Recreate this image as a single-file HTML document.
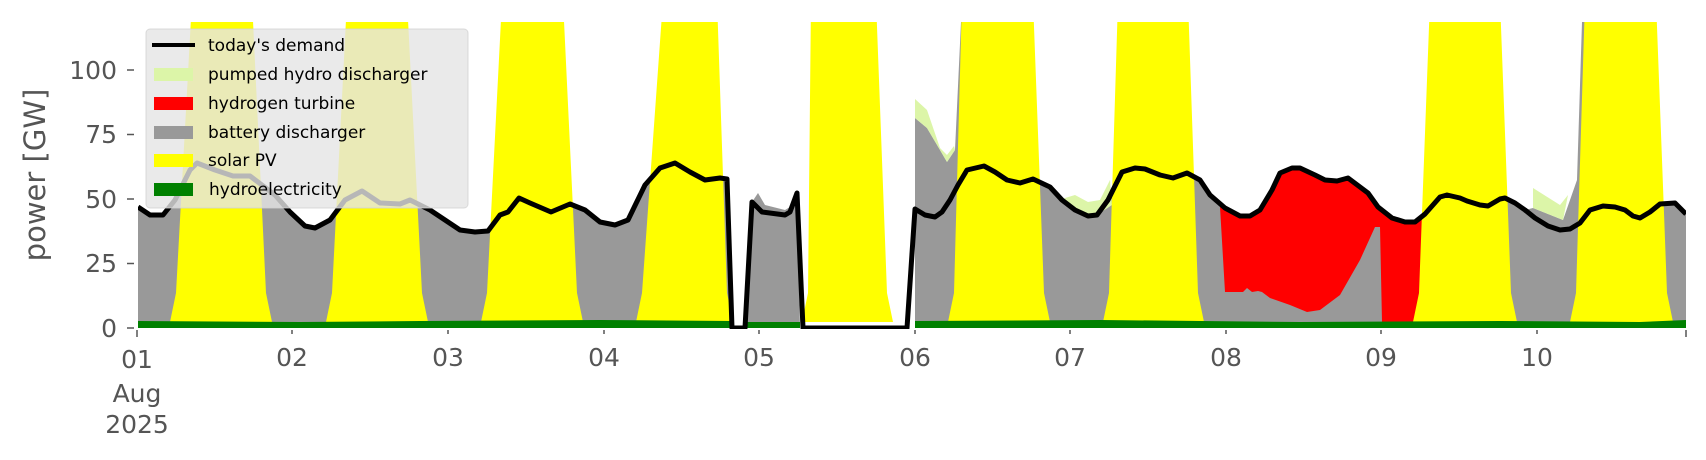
<!DOCTYPE html>
<html><head><meta charset="utf-8"><style>
html,body{margin:0;padding:0;background:#fff;}
svg{display:block;font-family:"DejaVu Sans","Liberation Sans",sans-serif;}
</style></head><body>
<svg width="1706" height="460" viewBox="0 0 1706 460" xmlns="http://www.w3.org/2000/svg">
<defs><clipPath id="c"><rect x="138" y="22" width="1548" height="307"/></clipPath></defs>
<g clip-path="url(#c)">
<polygon fill="#999" points="138,207 150,215 163,215 175,200 190,170 197,163 215,170 233,176 250,176 275,195 290,212 305,226 315,228 330,220 345,200 362,191 380,203 400,204 410,200 430,210 445,220 460,230 475,232 488,231 500,215 508,212 519,198 530,203 551,212 570,204 585,210 600,222 615,225 628,220 645,185 660,168 675,163 690,172 705,180 720,178 727,179 730,328 138,328"/>
<polygon fill="#999" points="745,328 752,202 758,193 765,205 785,210 790,207 797,190 800,328"/>
<polygon fill="#999" points="915,328 915,118 927,128 940,150 947,162 955,150 961,22 1000,22 1033,179 1050,187 1062,200 1075,210 1088,216 1097,215 1108,200 1122,172 1135,168 1145,169 1160,175 1173,178 1187,173 1200,180 1210,195 1225,208 1240,216 1250,216 1260,210 1272,190 1280,173 1292,168 1300,168 1315,175 1325,180 1337,181 1348,178 1360,187 1368,193 1378,207 1392,218 1405,222 1415,222 1425,214 1440,197 1447,195 1460,198 1467,201 1480,205 1488,206 1500,199 1505,198 1515,203 1525,210 1533,208 1563,220 1577,180 1582,22 1600,22 1615,207 1625,210 1633,216 1640,218 1650,212 1660,204 1675,203 1686,214 1686,328"/>
<polygon fill="#dcf5a8" points="915,99 927,110 940,148 947,155 954,146 955,150 947,162 940,150 927,128 915,118"/>
<polygon fill="#dcf5a8" points="1065,198 1075,195 1088,202 1100,200 1110,180 1112,205 1097,215 1088,216 1075,210 1062,200"/>
<polygon fill="#dcf5a8" points="1222,208 1250,217 1245,226 1228,224"/>
<polygon fill="#dcf5a8" points="1533,188 1560,205 1568,195 1563,220 1533,208"/>
<polygon fill="#f00" points="1220,207 1225,208 1240,216 1250,216 1260,210 1272,190 1280,173 1292,168 1300,168 1315,175 1325,180 1337,181 1348,178 1360,187 1368,193 1378,207 1392,218 1405,222 1415,222 1422,216 1422,290 1413,322 1382,322 1380,227 1375,227 1360,260 1340,295 1320,310 1307,312 1290,305 1270,298 1262,292 1258,291 1252,292 1247,288 1243,292 1225,292"/>
<g fill="#ff0">
<polygon points="170,322 176,293 192,0 252,0 266,293 272,322"/>
<polygon points="326,322 332,293 347,0 407,0 422,293 428,322"/>
<polygon points="481,322 487,293 502,0 563,0 577,293 583,322"/>
<polygon points="636,322 642,293 663,0 717,0 727,293 733,322"/>
<polygon points="802,322 808,293 811,0 876,0 887,293 893,322"/>
<polygon points="948,322 954,293 962,0 1033,0 1044,293 1050,322"/>
<polygon points="1103,322 1109,293 1118,0 1188,0 1198,293 1204,322"/>
<polygon points="1413,322 1419,293 1430,0 1500,0 1511,293 1517,322"/>
<polygon points="1570,322 1576,293 1585,0 1656,0 1667,293 1673,322"/>
</g>
<polygon fill="#008000" points="138,328 138,321 300,322 420,321 600,320 732,321 732,328"/>
<polygon fill="#008000" points="745,328 745,322 800,322 800,328"/>
<polygon fill="#008000" points="915,328 915,321 1100,320 1300,322 1500,321 1640,322 1686,320 1686,328"/>
<polyline fill="none" stroke="#000" stroke-width="5" stroke-linejoin="round" points="138,207 150,215 163,215 175,200 190,170 197,163 215,170 233,176 250,176 275,195 290,212 305,226 315,228 330,220 345,200 362,191 380,203 400,204 410,200 430,210 445,220 460,230 475,232 488,231 500,215 508,212 519,198 530,203 551,212 570,204 585,210 600,222 615,225 628,220 645,185 660,168 675,163 690,172 705,180 720,178 727,179 732,328 745,328 752,202 757,207 762,212 785,215 790,212 797,193 803,328 907,328 915,209 925,215 935,217 942,212 950,200 958,185 967,170 984,166 995,172 1007,180 1020,183 1033,179 1050,187 1062,200 1075,210 1088,216 1097,215 1108,200 1122,172 1135,168 1145,169 1160,175 1173,178 1187,173 1200,180 1210,195 1225,208 1240,216 1250,216 1260,210 1272,190 1280,173 1292,168 1300,168 1315,175 1325,180 1337,181 1348,178 1360,187 1368,193 1378,207 1392,218 1405,222 1415,222 1425,214 1440,197 1447,195 1460,198 1467,201 1480,205 1488,206 1500,199 1505,198 1515,203 1525,210 1535,218 1548,226 1560,230 1570,229 1580,223 1590,210 1603,206 1615,207 1625,210 1633,216 1640,218 1650,212 1660,204 1675,203 1686,214"/>
</g>
<rect x="146" y="29" width="322" height="179" rx="4" fill="rgba(229,229,229,0.8)" stroke="rgba(210,210,210,0.8)"/>
<g font-size="17" fill="#000">
<line x1="152" y1="45" x2="195" y2="45" stroke="#000" stroke-width="4"/>
<text x="208" y="51">today's demand</text>
<rect x="154" y="68" width="39" height="13" fill="#dcf5a8"/><text x="208" y="80">pumped hydro discharger</text>
<rect x="154" y="97" width="39" height="13" fill="#f00"/><text x="208" y="109">hydrogen turbine</text>
<rect x="154" y="126" width="39" height="13" fill="#999"/><text x="208" y="138">battery discharger</text>
<rect x="154" y="154" width="39" height="13" fill="#ff0"/><text x="208" y="166">solar PV</text>
<rect x="154" y="183" width="39" height="13" fill="#008000"/><text x="209" y="195">hydroelectricity</text>
</g>
<g fill="#555" font-size="25" text-anchor="end">
<text x="117" y="79">100</text><text x="117" y="143">75</text><text x="117" y="208">50</text><text x="117" y="272">25</text><text x="117" y="337">0</text>
</g>
<g stroke="#555" stroke-width="1.5">
<line x1="127" y1="70" x2="134" y2="70"/><line x1="127" y1="134.5" x2="134" y2="134.5"/><line x1="127" y1="199" x2="134" y2="199"/><line x1="127" y1="263.5" x2="134" y2="263.5"/><line x1="127" y1="328" x2="134" y2="328"/>
<line x1="137" y1="330" x2="137" y2="337"/><line x1="292" y1="330" x2="292" y2="334"/><line x1="448" y1="330" x2="448" y2="334"/><line x1="604" y1="330" x2="604" y2="334"/><line x1="759" y1="330" x2="759" y2="334"/><line x1="915" y1="330" x2="915" y2="334"/><line x1="1070" y1="330" x2="1070" y2="334"/><line x1="1226" y1="330" x2="1226" y2="334"/><line x1="1381" y1="330" x2="1381" y2="334"/><line x1="1537" y1="330" x2="1537" y2="334"/><line x1="1686" y1="330" x2="1686" y2="337"/>
</g>
<text x="37" y="175" fill="#555" font-size="29" text-anchor="middle" transform="rotate(-90 37 175)" dominant-baseline="middle">power [GW]</text>
<g fill="#555" font-size="25" text-anchor="middle">
<text x="137" y="368">01</text><text x="137" y="402">Aug</text><text x="137" y="433">2025</text>
<text x="292" y="366">02</text><text x="448" y="366">03</text><text x="604" y="366">04</text><text x="759" y="366">05</text><text x="915" y="366">06</text><text x="1070" y="366">07</text><text x="1226" y="366">08</text><text x="1381" y="366">09</text><text x="1537" y="366">10</text>
</g>
</svg>
</body></html>
